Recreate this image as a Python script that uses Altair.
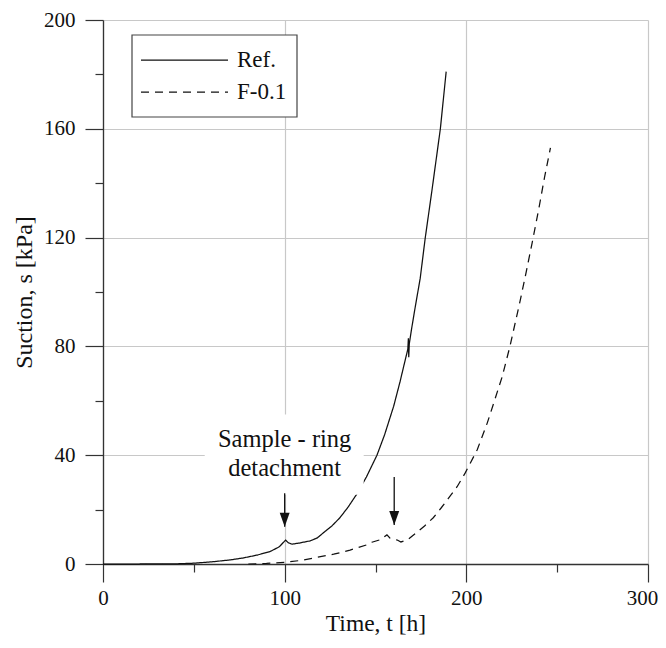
import altair as alt
import pandas as pd

FONT = "Liberation Serif"

# ---- data ----
series_names = ["Ref.", "F-0.1"]
series_dash = [[1, 0], [8, 6]]

ref_t = [0, 20, 40, 50, 60, 70, 77, 85, 92, 97,
         100.5, 102, 104, 108, 114, 118, 121, 126, 130.4, 135,
         140, 145, 150.8, 155, 160, 163.5, 166, 167.8, 168.1, 168.3,
         168.6, 170, 172, 174.6, 177.4, 181, 185.7, 188.9]
ref_s = [0, 0, 0.05, 0.3, 0.8, 1.5, 2.2, 3.3, 4.6, 6.3,
         8.8, 7.8, 7.3, 7.7, 8.5, 9.6, 11.3, 14, 17, 21,
         26, 32, 40, 47.5, 58, 67, 74, 79, 83, 76,
         81, 87, 95, 105, 120, 137, 160, 181]

f_t = [80, 90, 100, 110, 118, 127, 136, 145, 148, 152.5,
       156.3, 158, 162, 164, 167.5, 173, 177, 181.8, 186, 190,
       195, 199.4, 206, 211.5, 215, 219.7, 224, 229.7, 233, 236.2,
       240, 243, 246.3]
f_s = [0, 0.2, 0.6, 1.4, 2.5, 3.6, 5.1, 7, 8, 8.9,
       10.7, 9.5, 8.8, 8.1, 8.8, 11.8, 14, 17, 20.5, 24,
       28.5, 33.5, 42, 51.8, 59, 68.8, 80, 97, 107.5, 118,
       131, 142, 153]

x_ticks = [0, 50, 100, 150, 200, 250, 300]
y_ticks = [0, 20, 40, 60, 80, 100, 120, 140, 160, 180, 200]

note_lines = ["Sample - ring", "detachment"]
note_t = [100, 100]
note_s = [45.5, 35]

box_t = [56, 143.5]
box_s = [25.5, 55]

arrow_t = [100, 160.3]
arrow_from = [26, 32]
arrow_to = [13.7, 14.3]

# ---- tables ----
lines_df = pd.concat([
    pd.DataFrame({"t": ref_t, "s": ref_s, "series": series_names[0]}),
    pd.DataFrame({"t": f_t, "s": f_s, "series": series_names[1]}),
], ignore_index=True)
note_df = pd.DataFrame({"t": note_t, "s": note_s, "txt": note_lines})
box_df = pd.DataFrame({"t": [box_t[0]], "t2": [box_t[1]], "s": [box_s[0]], "s2": [box_s[1]]})
arrow_df = pd.DataFrame({"t": arrow_t, "s": arrow_from, "s2": arrow_to})

xscale = alt.Scale(domain=[0, 300], nice=False)
yscale = alt.Scale(domain=[0, 200], nice=False)

x_axis = alt.Axis(
    values=x_ticks, title="Time, t [h]",
    labelExpr="datum.value % 100 == 0 ? datum.label : ''",
    tickSize={"condition": {"test": "datum.value % 100 != 0", "value": 8}, "value": 18},
    gridOpacity={"condition": {"test": "datum.value % 100 != 0", "value": 0}, "value": 1},
    labelOffset={"condition": {"test": "datum.value == 300", "value": -6}, "value": 0},
    labelOverlap=False, labelFlush=False, labelPadding=5, titlePadding=3,
    titleFontSize=23.5,
)
y_axis = alt.Axis(
    values=y_ticks, title="Suction, s [kPa]",
    labelExpr="datum.value % 40 == 0 ? datum.label : ''",
    tickSize={"condition": {"test": "datum.value % 40 != 0", "value": 8}, "value": 18},
    gridOpacity={"condition": {"test": "datum.value % 40 != 0", "value": 0}, "value": 1},
    labelOverlap=False, labelFlush=False, labelPadding=10, titlePadding=7,
    titleFontSize=24,
)

lines = alt.Chart(lines_df).mark_line(color="#111", strokeWidth=1.25).encode(
    x=alt.X("t:Q", scale=xscale, axis=x_axis),
    y=alt.Y("s:Q", scale=yscale, axis=y_axis),
    strokeDash=alt.StrokeDash(
        "series:N",
        scale=alt.Scale(domain=series_names, range=series_dash),
        legend=None,
    ),
)

box = alt.Chart(box_df).mark_rect(color="white").encode(
    x=alt.X("t:Q", scale=xscale), x2="t2:Q",
    y=alt.Y("s:Q", scale=yscale), y2="s2:Q",
)

shafts = alt.Chart(arrow_df).mark_rule(color="#111", strokeWidth=1.3).encode(
    x=alt.X("t:Q", scale=xscale),
    y=alt.Y("s:Q", scale=yscale), y2="s2:Q",
)
heads = alt.Chart(arrow_df).mark_point(
    shape="M-0.71,-2L0.71,-2L0,0Z", filled=True, color="#111", opacity=1, size=196
).encode(
    x=alt.X("t:Q", scale=xscale),
    y=alt.Y("s2:Q", scale=yscale),
)

notes = alt.Chart(note_df).mark_text(
    font=FONT, fontSize=24.5, color="#111", align="center", baseline="middle"
).encode(
    x=alt.X("t:Q", scale=xscale),
    y=alt.Y("s:Q", scale=yscale),
    text="txt:N",
)

# ---- legend (drawn as a framed key in the upper-left corner) ----
legend_df = pd.DataFrame({"series": series_names})
legend_frame = alt.Chart(legend_df.head(1)).mark_rect(
    fill="white", stroke="#444", strokeWidth=1.2
).encode(x=alt.value(29), x2=alt.value(194), y=alt.value(15), y2=alt.value(97))
legend_parts = [legend_frame]
for i, (name, dash) in enumerate(zip(series_names, series_dash)):
    row = legend_df.iloc[[i]]
    ypix = 40 + 32 * i
    legend_parts.append(
        alt.Chart(row).mark_rule(color="#111", strokeWidth=1.25, strokeDash=dash).encode(
            x=alt.value(38), x2=alt.value(125), y=alt.value(ypix)
        )
    )
    legend_parts.append(
        alt.Chart(row).mark_text(
            font=FONT, fontSize=23, color="#111", align="left", baseline="middle"
        ).encode(x=alt.value(134), y=alt.value(ypix), text="series:N")
    )

chart = alt.layer(lines, box, shafts, heads, notes, *legend_parts).properties(
    width=545, height=544,
    autosize=alt.AutoSizeParams(type="none"),
    padding={"left": 95, "top": 12, "right": 10, "bottom": 76},
).configure_view(stroke=None).configure_axis(
    domainColor="#333", domainWidth=1.3, tickColor="#333", tickWidth=1.2,
    gridColor="#c8c8c8", gridWidth=1.2,
    labelFont=FONT, labelFontSize=21, labelColor="#111",
    titleFont=FONT, titleColor="#111", titleFontWeight="normal",
)

chart.save("out.html", embed_options={"renderer": "svg", "actions": False})
